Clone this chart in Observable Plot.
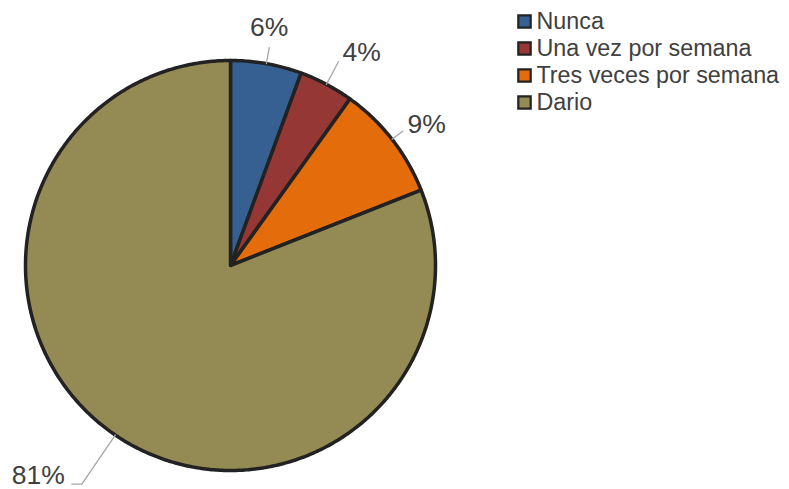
<!DOCTYPE html>
<html><head><meta charset="utf-8">
<script src="https://cdn.jsdelivr.net/npm/d3@7"></script>
<script src="https://cdn.jsdelivr.net/npm/@observablehq/plot@0.6"></script>
<style>body{margin:0;background:#fff}</style>
</head><body><div id="chart"></div>
<script>
// ---- data ----
const categories = ["Nunca", "Una vez por semana", "Tres veces por semana", "Dario"];
const values = [5.6, 4.3, 9.1, 81.0];
const labels = ["6%", "4%", "9%", "81%"];
const colors = ["#376092", "#953735", "#E46C0A", "#948A54"];

// ---- layout ----
const W = 789, H = 489;
const cx = 230, cy = 265, R = 205;
const px = 1 / R; // data units per pixel
const leaderR = [1.08, 1.125, 1.065, 1.29];
const leaderTail = [0, 0, 0, -10];
const labelOff = [[0, -20, "middle"], [4, -9, "start"], [5, -7, "start"], [-7, -9, "end"]];

const pie = d3.pie().sort(null).value(d => d)(values);

const slicePts = [];
pie.forEach((p, i) => {
  const n = Math.max(2, Math.ceil((p.endAngle - p.startAngle) / 0.01));
  slicePts.push({cat: categories[i], x: 0, y: 0});
  for (let k = 0; k <= n; k++) {
    const a = p.startAngle + (p.endAngle - p.startAngle) * k / n;
    slicePts.push({cat: categories[i], x: Math.sin(a), y: Math.cos(a)});
  }
});

const leaderPts = [];
const labelPts = [];
pie.forEach((p, i) => {
  const m = (p.startAngle + p.endAngle) / 2;
  const s = Math.sin(m), c = Math.cos(m);
  const ex = s * leaderR[i], ey = c * leaderR[i];
  leaderPts.push({cat: categories[i], x: s, y: c});
  leaderPts.push({cat: categories[i], x: ex, y: ey});
  const tx = ex + leaderTail[i] * px;
  if (leaderTail[i] !== 0) leaderPts.push({cat: categories[i], x: tx, y: ey});
  labelPts.push({
    text: labels[i],
    x: tx + labelOff[i][0] * px,
    y: ey - labelOff[i][1] * px,
    anchor: labelOff[i][2]
  });
});

const legendRows = categories.map((cat, i) => ({
  cat,
  sx: (524 - cx) * px,
  tx: (536 - cx) * px,
  y: (cy - 21 - 27 * i) * px
}));

const font = "'Liberation Sans', Arial, sans-serif";
const textColor = "#404040";

const chart = Plot.plot({
  width: W,
  height: H,
  marginLeft: cx - R,
  marginRight: W - (cx + R),
  marginTop: cy - R,
  marginBottom: H - (cy + R),
  style: {fontFamily: font, background: "#fff"},
  x: {domain: [-1, 1], axis: null},
  y: {domain: [-1, 1], axis: null},
  color: {domain: categories, range: colors},
  marks: [
    Plot.line(slicePts, {x: "x", y: "y", z: "cat", fill: "cat", stroke: "#222", strokeWidth: 3.5, curve: "linear-closed", strokeLinejoin: "round"}),
    Plot.line(leaderPts, {x: "x", y: "y", z: "cat", stroke: "#a6a6a6", strokeWidth: 1.3}),
    ...["start", "middle", "end"].map(a =>
      Plot.text(labelPts.filter(d => d.anchor === a), {x: "x", y: "y", text: "text", textAnchor: a, fontSize: 26.5, fill: textColor})
    ),
    Plot.dot(legendRows, {x: "sx", y: "y", symbol: "square", r: 7, fill: "cat", stroke: "#222", strokeWidth: 2.2}),
    Plot.text(legendRows, {x: "tx", y: "y", text: "cat", textAnchor: "start", fontSize: 23.3, fill: textColor})
  ]
});
document.getElementById("chart").appendChild(chart);
</script>
</body></html>
